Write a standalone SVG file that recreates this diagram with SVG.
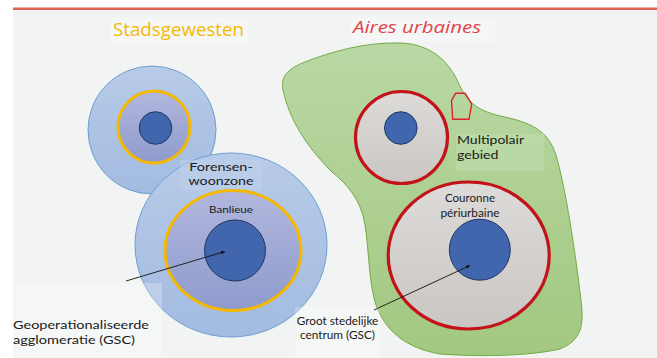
<svg xmlns="http://www.w3.org/2000/svg" width="657" height="358" viewBox="0 0 657 358">
  <defs>
    <linearGradient id="gBlueOuter" x1="0" y1="0" x2="0" y2="1">
      <stop offset="0" stop-color="#b8cbe8"/>
      <stop offset="1" stop-color="#a2bbe0"/>
    </linearGradient>
    <linearGradient id="gPurple" x1="0" y1="0" x2="0" y2="1">
      <stop offset="0" stop-color="#b2b7dd"/>
      <stop offset="1" stop-color="#8e9bcc"/>
    </linearGradient>
    <linearGradient id="gGreen" x1="0" y1="0" x2="0" y2="1">
      <stop offset="0" stop-color="#b9d8a4"/>
      <stop offset="1" stop-color="#a2c880"/>
    </linearGradient>
    <linearGradient id="gGray" x1="0" y1="0" x2="0" y2="1">
      <stop offset="0" stop-color="#dddbd9"/>
      <stop offset="1" stop-color="#c9c6c3"/>
    </linearGradient>
    <marker id="arrow" viewBox="0 0 10 10" refX="9" refY="5" markerWidth="5" markerHeight="5" orient="auto">
      <path d="M0,1 L10,5 L0,9 Z" fill="#111"/>
    </marker>
    <style>
      .outer { fill: url(#gBlueOuter); stroke: #6e9fd3; stroke-width: 1; }
      .ring { fill: url(#gPurple); stroke: #f5b800; stroke-width: 3; }
      .core { fill: #4266ad; stroke: #1f3766; stroke-width: 1; }
      .redring { fill: url(#gGray); stroke: #c3121a; stroke-width: 3.2; }
      .lbl { font-family: Lato, "Open Sans", "DejaVu Sans", sans-serif; fill: #1a1a1a; }
      .conn { stroke: #111; stroke-width: 0.9; fill: none; marker-end: url(#arrow); }
      .tbg { fill: #ffffff; opacity: 0.25; }
    </style>
  </defs>

  <rect x="0" y="0" width="657" height="358" fill="#ffffff"/>
  <rect x="13" y="9" width="644" height="349" fill="#f2f4f4"/>
  <line x1="13" y1="8.7" x2="657" y2="8.7" stroke="#dc6450" stroke-width="2.6"/>

  <g id="title-stadsgewesten">
    <rect class="tbg" x="110" y="18" width="138" height="26"/>
    <text x="113" y="36" font-family="'Open Sans', 'Noto Sans', sans-serif" font-size="18" fill="#f7b900" textLength="131" lengthAdjust="spacingAndGlyphs">Stadsgewesten</text>
  </g>
  <g id="title-aires">
    <rect class="tbg" x="350" y="18" width="145" height="24"/>
    <text x="353" y="32.7" font-family="'Open Sans', 'Noto Sans', sans-serif" font-size="17" font-style="italic" fill="#e2434a" textLength="128" lengthAdjust="spacingAndGlyphs">Aires urbaines</text>
  </g>

  <g id="aire-urbaine-shape">
    <path d="M283,90 C280,75 290,68 305,62 C330,52 365,42 400,43 C430,44 448,60 458,82 C466,100 475,110 500,116 C530,122 548,130 556,155 C566,190 575,250 581,300 C584,325 582,340 560,349 C530,356 480,357 440,354 C405,348 385,330 376,305 C369,285 369,250 365,225 C361,200 348,185 332,172 C305,145 289,118 283,90 Z" fill="url(#gGreen)" stroke="#76a944" stroke-width="1"/>
  </g>

  <g id="stadsgewest-small">
    <circle class="outer" cx="152" cy="130" r="64"/>
    <circle class="ring" cx="154" cy="127" r="36"/>
    <circle class="core" cx="155.5" cy="128" r="16.3"/>
  </g>

  <g id="stadsgewest-large">
    <ellipse class="outer" cx="231" cy="245" rx="96" ry="92"/>
    <rect x="180" y="160" width="82" height="30" fill="#bccfea" opacity="0.6"/>
    <text class="lbl" x="221" y="170.5" font-size="12" text-anchor="middle" textLength="63.5" lengthAdjust="spacingAndGlyphs">Forensen-</text>
    <text class="lbl" x="221" y="185" font-size="12" text-anchor="middle" textLength="65" lengthAdjust="spacingAndGlyphs">woonzone</text>
    <ellipse class="ring" cx="233" cy="250.5" rx="68" ry="60"/>
    <text class="lbl" x="231" y="213" font-size="10" text-anchor="middle" textLength="44" lengthAdjust="spacingAndGlyphs">Banlieue</text>
    <circle class="core" cx="235" cy="250.5" r="30.5"/>
  </g>

  <g id="pole-upper">
    <circle class="redring" cx="401.5" cy="137.5" r="46"/>
    <circle class="core" cx="400.8" cy="128" r="16.3"/>
  </g>

  <g id="pole-small">
    <polygon points="455.7,93.3 465,93.3 471.7,104 469,119.3 452.7,119.3 451.5,100.5" fill="none" stroke="#e0222a" stroke-width="1.4"/>
  </g>

  <g id="multipolair">
    <rect x="456" y="134" width="88" height="37" fill="#bcdba8" opacity="0.8"/>
    <text class="lbl" x="457" y="144" font-size="12.2" textLength="67" lengthAdjust="spacingAndGlyphs">Multipolair</text>
    <text class="lbl" x="457" y="158.7" font-size="12.2" textLength="41.5" lengthAdjust="spacingAndGlyphs">gebied</text>
  </g>

  <g id="pole-lower">
    <ellipse class="redring" cx="468.7" cy="255.5" rx="80.5" ry="73.5" stroke-width="3.5"/>
    <text class="lbl" x="470" y="201.7" font-size="10.5" text-anchor="middle" textLength="50" lengthAdjust="spacingAndGlyphs">Couronne</text>
    <text class="lbl" x="470" y="216.7" font-size="10.5" text-anchor="middle" textLength="59" lengthAdjust="spacingAndGlyphs">périurbaine</text>
    <circle class="core" cx="479.8" cy="249.7" r="30.5"/>
  </g>

  <g id="label-geoperationaliseerde">
    <rect class="tbg" x="12" y="283" width="150" height="75"/>
    <text class="lbl" x="13" y="329" font-size="12" textLength="136" lengthAdjust="spacingAndGlyphs">Geoperationaliseerde</text>
    <text class="lbl" x="13" y="343.5" font-size="12" textLength="122" lengthAdjust="spacingAndGlyphs">agglomeratie (GSC)</text>
  </g>

  <g id="label-gsc">
    <rect class="tbg" x="295" y="307" width="85" height="51"/>
    <text class="lbl" x="337.5" y="325" font-size="11" text-anchor="middle" textLength="81.5" lengthAdjust="spacingAndGlyphs">Groot stedelijke</text>
    <text class="lbl" x="337.5" y="338.5" font-size="11" text-anchor="middle" textLength="75" lengthAdjust="spacingAndGlyphs">centrum (GSC)</text>
  </g>

  <g id="connectors">
    <line class="conn" x1="126" y1="281" x2="225" y2="251.5"/>
    <line class="conn" x1="374" y1="310" x2="470" y2="265.5"/>
  </g>
</svg>
